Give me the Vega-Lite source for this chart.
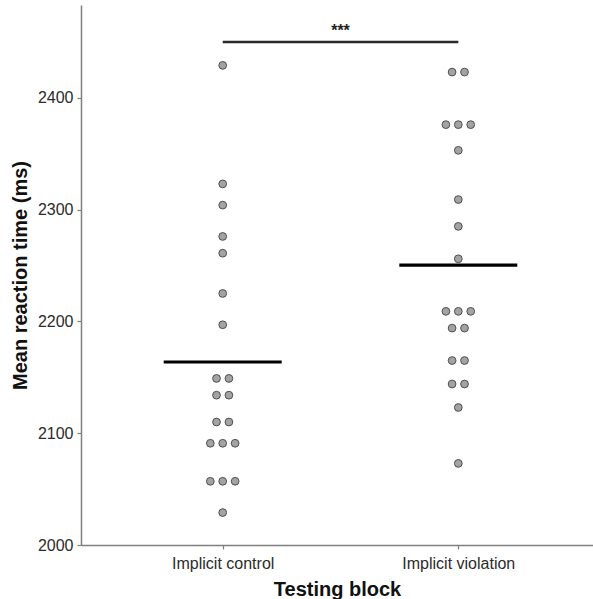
{
  "$schema": "https://vega.github.io/schema/vega-lite/v6.json",
  "width": 512,
  "height": 540,
  "autosize": {"type": "none"},
  "padding": {"left": 81, "top": 5, "right": 0, "bottom": 54},
  "background": "white",
  "config": {
    "view": {"stroke": null},
    "font": "Liberation Sans",
    "axis": {
      "grid": false,
      "domainColor": "#7f7f7f",
      "domainWidth": 1.5,
      "tickColor": "#7f7f7f",
      "tickWidth": 1.2,
      "tickSize": 4,
      "labelColor": "#2b2b2b",
      "labelFontSize": 16,
      "labelFont": "Liberation Sans",
      "titleFont": "Liberation Sans",
      "titleFontSize": 20,
      "titleFontWeight": "bold",
      "titleColor": "#111111"
    }
  },
  "datasets": {
    "rt": [
      {"block": "Implicit control", "rt": 2429},
      {"block": "Implicit control", "rt": 2323},
      {"block": "Implicit control", "rt": 2304},
      {"block": "Implicit control", "rt": 2276},
      {"block": "Implicit control", "rt": 2261},
      {"block": "Implicit control", "rt": 2225},
      {"block": "Implicit control", "rt": 2197},
      {"block": "Implicit control", "rt": 2149},
      {"block": "Implicit control", "rt": 2149},
      {"block": "Implicit control", "rt": 2134},
      {"block": "Implicit control", "rt": 2134},
      {"block": "Implicit control", "rt": 2110},
      {"block": "Implicit control", "rt": 2110},
      {"block": "Implicit control", "rt": 2091},
      {"block": "Implicit control", "rt": 2091},
      {"block": "Implicit control", "rt": 2091},
      {"block": "Implicit control", "rt": 2057},
      {"block": "Implicit control", "rt": 2057},
      {"block": "Implicit control", "rt": 2057},
      {"block": "Implicit control", "rt": 2029},
      {"block": "Implicit violation", "rt": 2423},
      {"block": "Implicit violation", "rt": 2423},
      {"block": "Implicit violation", "rt": 2376},
      {"block": "Implicit violation", "rt": 2376},
      {"block": "Implicit violation", "rt": 2376},
      {"block": "Implicit violation", "rt": 2353},
      {"block": "Implicit violation", "rt": 2309},
      {"block": "Implicit violation", "rt": 2285},
      {"block": "Implicit violation", "rt": 2256},
      {"block": "Implicit violation", "rt": 2209},
      {"block": "Implicit violation", "rt": 2209},
      {"block": "Implicit violation", "rt": 2209},
      {"block": "Implicit violation", "rt": 2194},
      {"block": "Implicit violation", "rt": 2194},
      {"block": "Implicit violation", "rt": 2165},
      {"block": "Implicit violation", "rt": 2165},
      {"block": "Implicit violation", "rt": 2144},
      {"block": "Implicit violation", "rt": 2144},
      {"block": "Implicit violation", "rt": 2123},
      {"block": "Implicit violation", "rt": 2073}
    ],
    "sig": [
      {"from": "Implicit control", "to": "Implicit violation", "level": 2450, "label": "***", "labelLevel": 2460}
    ]
  },
  "encoding": {
    "x": {
      "field": "block",
      "type": "nominal",
      "scale": {"type": "point", "padding": 0.5866, "align": 0.5127},
      "axis": {"title": "Testing block", "labelAngle": 0, "labelPadding": 6.5, "titlePadding": 8}
    }
  },
  "layer": [
    {
      "data": {"name": "rt"},
      "transform": [
        {"window": [{"op": "row_number", "as": "pos"}, {"op": "count", "as": "n"}], "groupby": ["block", "rt"], "frame": [null, null]},
        {"calculate": "datum.pos - (datum.n + 1) / 2", "as": "slot"}
      ],
      "mark": {"type": "point", "shape": "circle", "filled": true, "size": 60, "fill": "#a3a3a3", "stroke": "#4f4f4f", "strokeWidth": 1, "opacity": 1},
      "encoding": {
        "y": {
          "field": "rt",
          "type": "quantitative",
          "scale": {"domain": [2000, 2483], "nice": false, "zero": false},
          "axis": {"title": "Mean reaction time (ms)", "values": [2000, 2100, 2200, 2300, 2400], "format": "d", "labelPadding": 4, "titlePadding": 7}
        },
        "xOffset": {"field": "slot", "type": "quantitative", "scale": {"domain": [-1, 1], "range": [-12.4, 12.4]}}
      }
    },
    {
      "data": {"name": "rt"},
      "mark": {"type": "tick", "orient": "horizontal", "size": 118, "thickness": 3.2, "color": "#000000", "opacity": 1},
      "encoding": {
        "y": {"aggregate": "mean", "field": "rt", "type": "quantitative"}
      }
    },
    {
      "data": {"name": "sig"},
      "mark": {"type": "rule", "color": "#2a2a2a", "strokeWidth": 2.5},
      "encoding": {
        "x": {"field": "from", "type": "nominal"},
        "x2": {"field": "to"},
        "y": {"field": "level", "type": "quantitative"}
      }
    },
    {
      "data": {"name": "sig"},
      "mark": {"type": "text", "fontSize": 16, "fontWeight": "bold", "color": "#222222", "baseline": "middle", "align": "center",
        "x": {"expr": "(scale('x', 'Implicit control') + scale('x', 'Implicit violation')) / 2"}},
      "encoding": {
        "x": null,
        "text": {"field": "label"},
        "y": {"field": "labelLevel", "type": "quantitative"}
      }
    }
  ]
}
